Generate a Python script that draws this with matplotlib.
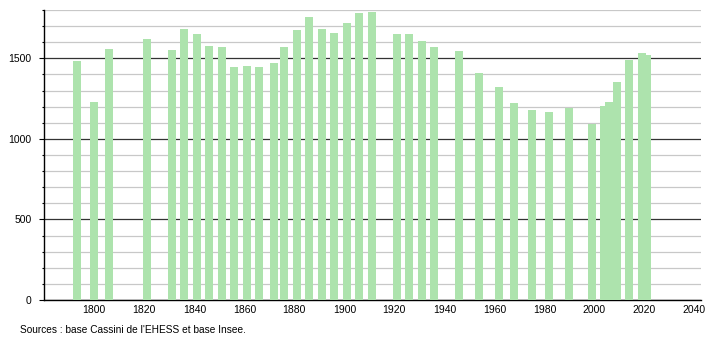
import matplotlib
matplotlib.use("Agg")
import matplotlib.pyplot as plt
from matplotlib.ticker import MultipleLocator

plt.rcParams['font.family'] = ['Liberation Sans', 'DejaVu Sans']

years = [1793, 1800, 1806, 1821, 1831, 1836, 1841, 1846, 1851, 1856,
         1861, 1866, 1872, 1876, 1881, 1886, 1891, 1896, 1901, 1906,
         1911, 1921, 1926, 1931, 1936, 1946, 1954, 1962, 1968, 1975,
         1982, 1990, 1999, 2004, 2006, 2009, 2014, 2019, 2021]
population = [1484, 1229, 1558, 1618, 1552, 1682, 1651, 1577, 1573, 1446,
              1452, 1444, 1469, 1573, 1676, 1757, 1682, 1659, 1717, 1780,
              1786, 1651, 1651, 1608, 1568, 1546, 1411, 1320, 1221, 1179,
              1165, 1194, 1093, 1206, 1227, 1352, 1487, 1530, 1520]
x_ticks = [1800, 1820, 1840, 1860, 1880, 1900, 1920, 1940, 1960, 1980, 2000, 2020, 2040]
y_ticks = [0, 500, 1000, 1500]
source_text = "Sources : base Cassini de l'EHESS et base Insee."

W, H = 710, 340
fig = plt.figure(figsize=(W / 100, H / 100), dpi=100)
left, right, bottom, top = 44.3, 700.7, 300, 10
ax = fig.add_axes([left / W, 1 - bottom / H, (right - left) / W, (bottom - top) / H])

ax.bar(years, population, width=3.2, color='#ade3ad', edgecolor='none', zorder=3)

ax.set_xlim(1780, 2042.5)
ax.set_ylim(0, 1800)

ax.set_yticks(y_ticks)
ax.yaxis.set_minor_locator(MultipleLocator(100))
ax.set_xticks(x_ticks)

ax.grid(which='minor', axis='y', color='#c8c8c8', linewidth=0.9, zorder=1)
ax.grid(which='major', axis='y', color='#333333', linewidth=0.9, zorder=2)
ax.set_axisbelow(True)

for s in ['top', 'right']:
    ax.spines[s].set_visible(False)
ax.spines['left'].set_color('black')
ax.spines['bottom'].set_color('black')
ax.spines['left'].set_linewidth(1.0)
ax.spines['bottom'].set_linewidth(1.0)

ax.tick_params(axis='y', which='major', length=3.6, width=0.8, pad=5.5, labelsize=7.5, colors='black')
ax.tick_params(axis='y', which='minor', length=1.5, width=0.8)
ax.tick_params(axis='x', which='major', length=0, pad=3.5, labelsize=7.5, colors='black')

fig.text(20.5 / W, 1 - 330 / H, source_text, fontsize=7.3, ha='left', va='center', color='black')

fig.savefig('out.png', dpi=100)
